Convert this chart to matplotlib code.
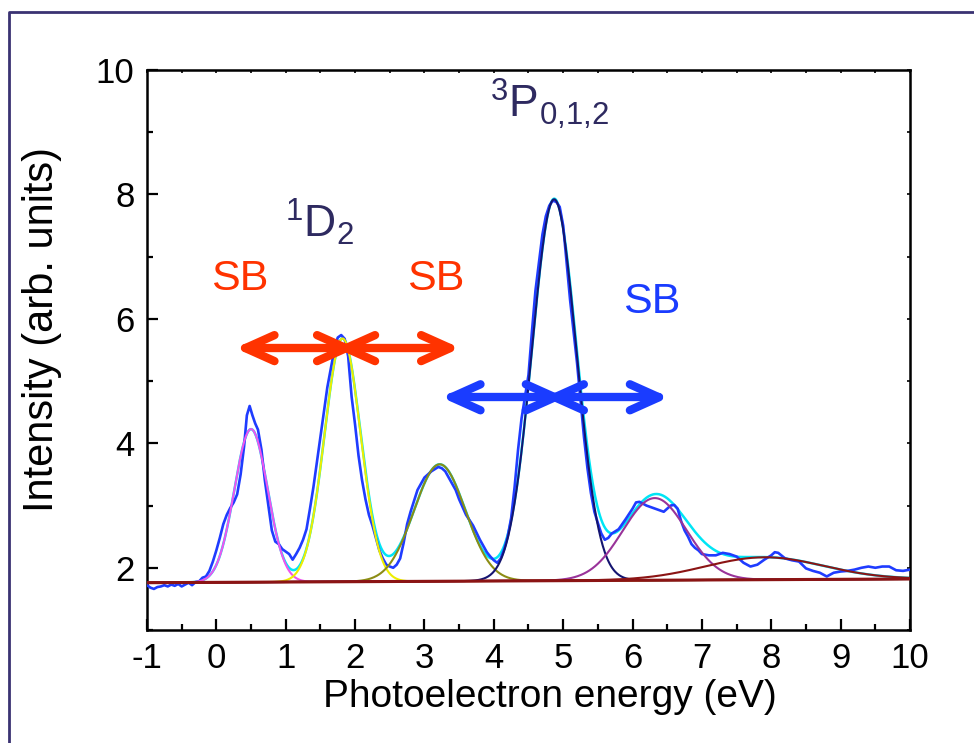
import numpy as np
import matplotlib
matplotlib.use("Agg")
import matplotlib.pyplot as plt
import matplotlib.transforms as mtransforms
from matplotlib.lines import Line2D
from matplotlib.ticker import MultipleLocator

plt.rcParams['font.family'] = ['Liberation Sans', 'DejaVu Sans']
plt.rcParams['mathtext.fontset'] = 'custom'
plt.rcParams['mathtext.rm'] = 'Liberation Sans'
plt.rcParams['mathtext.it'] = 'Liberation Sans:italic'
plt.rcParams['axes.unicode_minus'] = False

# Measured photoelectron spectrum (energy in eV, intensity in arb. units)
energy = [-1.0, -0.95, -0.9, -0.85, -0.8, -0.75, -0.7, -0.65, -0.6, -0.55, -0.5, -0.45,
          -0.4, -0.35, -0.3, -0.25, -0.2, -0.15, -0.1, -0.05, 0.0, 0.05, 0.1, 0.15, 0.2,
          0.25, 0.3, 0.35, 0.4, 0.44, 0.48, 0.52, 0.56, 0.6, 0.65, 0.7, 0.75, 0.8, 0.85,
          0.9, 0.95, 1.0, 1.05, 1.1, 1.15, 1.2, 1.25, 1.3, 1.35, 1.4, 1.45, 1.5, 1.55,
          1.6, 1.65, 1.7, 1.75, 1.8, 1.85, 1.9, 1.95, 2.0, 2.05, 2.1, 2.15, 2.2, 2.25,
          2.3, 2.35, 2.4, 2.45, 2.5, 2.55, 2.6, 2.65, 2.7, 2.75, 2.8, 2.9, 3.0, 3.1,
          3.2, 3.25, 3.3, 3.37, 3.45, 3.5, 3.6, 3.7, 3.8, 3.9, 3.95, 4.0, 4.05, 4.1,
          4.15, 4.2, 4.25, 4.3, 4.35, 4.4, 4.45, 4.5, 4.55, 4.6, 4.65, 4.7, 4.75, 4.8,
          4.85, 4.9, 4.95, 5.0, 5.05, 5.1, 5.15, 5.2, 5.25, 5.3, 5.35, 5.4, 5.45, 5.5,
          5.55, 5.6, 5.65, 5.7, 5.8, 5.9, 6.0, 6.05, 6.1, 6.15, 6.2, 6.3, 6.4, 6.45,
          6.5, 6.55, 6.6, 6.65, 6.7, 6.75, 6.8, 6.85, 6.9, 6.95, 7.0, 7.1, 7.2, 7.3,
          7.4, 7.5, 7.6, 7.7, 7.8, 7.9, 8.0, 8.05, 8.1, 8.2, 8.3, 8.4, 8.5, 8.6, 8.7,
          8.8, 8.9, 9.0, 9.1, 9.2, 9.3, 9.4, 9.5, 9.6, 9.7, 9.8, 9.9, 10.0]
intensity = [1.72, 1.68, 1.66, 1.69, 1.70, 1.72, 1.70, 1.73, 1.71, 1.74, 1.70, 1.73,
             1.76, 1.72, 1.77, 1.78, 1.84, 1.86, 1.95, 2.10, 2.28, 2.48, 2.70, 2.85, 2.96,
             3.05, 3.18, 3.50, 3.95, 4.45, 4.60, 4.45, 4.32, 4.22, 3.90, 3.40, 3.00, 2.60, 2.42,
             2.38, 2.30, 2.26, 2.22, 2.13, 2.22, 2.32, 2.45, 2.62, 2.95, 3.30, 3.70, 4.10, 4.50,
             4.90, 5.20, 5.50, 5.70, 5.74, 5.68, 5.40, 4.75, 4.30, 3.80, 3.41, 3.10, 2.85, 2.68,
             2.48, 2.28, 2.15, 2.05, 2.02, 2.00, 2.05, 2.15, 2.40, 2.70, 2.90, 3.25, 3.45, 3.55,
             3.62, 3.60, 3.55, 3.41, 3.25, 3.10, 2.85, 2.68, 2.45, 2.25, 2.18, 2.12, 2.08, 2.15,
             2.30, 2.50, 2.80, 3.30, 3.90, 4.40, 4.75, 5.10, 5.80, 6.45, 6.90, 7.35, 7.65, 7.82,
             7.90, 7.88, 7.80, 7.50, 6.90, 6.30, 5.80, 5.29, 4.70, 4.10, 3.60, 3.20, 2.90, 2.72,
             2.55, 2.45, 2.48, 2.55, 2.62, 2.78, 2.95, 3.05, 3.06, 3.03, 3.00, 2.96, 2.92, 2.90,
             2.95, 3.00, 3.01, 2.95, 2.75, 2.60, 2.50, 2.38, 2.32, 2.28, 2.22, 2.20, 2.20, 2.24,
             2.22, 2.18, 2.08, 2.02, 2.05, 2.13, 2.20, 2.25, 2.24, 2.15, 2.12, 2.10, 1.99, 1.95, 1.92,
             1.86, 1.92, 1.94, 1.95, 1.97, 2.00, 2.02, 2.00, 2.02, 2.02, 1.96, 1.95, 1.97]

# Linear background (value at -1 eV and at 10 eV)
background_ends = [1.76, 1.82]

# Gaussian fit components: centre (eV), amplitude above background, sigma (eV)
fit_centres = [0.50, 1.82, 3.22, 4.87, 6.32, 7.90]
fit_amplitudes = [2.46, 3.91, 1.88, 6.13, 1.32, 0.36]
fit_sigmas = [0.24, 0.26, 0.37, 0.32, 0.46, 0.85]
fit_colours = ['#ee55ee', '#eeee00', '#8c8c14', '#141470', '#993399', '#8b1414']

# Sideband arrows: start (eV), end (eV), height
red_arrows = [(0.42, 1.87, 5.53), (1.87, 3.37, 5.53)]
blue_arrows = [(3.39, 4.88, 4.74), (4.88, 6.38, 4.74)]

fig = plt.figure(figsize=(9.74, 7.43), dpi=100)
ax = fig.add_axes([0.1509, 0.1521, 0.7834, 0.7537])

grid = np.linspace(-1, 10, 1101)
background = np.interp(grid, [-1, 10], background_ends)
components = [a * np.exp(-(grid - c) ** 2 / (2 * s ** 2))
              for c, a, s in zip(fit_centres, fit_amplitudes, fit_sigmas)]
total = background + np.sum(components, axis=0)

ax.plot(grid, total, color='#00e5f5', lw=1.8, zorder=2)
ax.plot(energy, intensity, color='#1f3cff', lw=1.9, zorder=3)
for comp, col in zip(components, fit_colours):
    ax.plot(grid, background + comp, color=col, lw=1.5, zorder=4)
ax.plot(grid, background, color='#8b1414', lw=2.2, zorder=5)

ax.set_xlim(-1, 10)
ax.set_ylim(1, 10)
ax.xaxis.set_major_locator(MultipleLocator(1))
ax.xaxis.set_minor_locator(MultipleLocator(0.5))
ax.yaxis.set_major_locator(MultipleLocator(2))
ax.yaxis.set_minor_locator(MultipleLocator(1))
ax.tick_params(which='major', direction='in', length=8, width=1.6, labelsize=25,
               pad=9)
ax.tick_params(which='minor', direction='in', length=4.5, width=1.6)
for sp in ax.spines.values():
    sp.set_linewidth(1.8)

top = ax.secondary_xaxis('top')
top.xaxis.set_major_locator(MultipleLocator(0.5))
top.tick_params(direction='in', length=2, width=1.2, labeltop=False)
right = ax.secondary_yaxis('right')
right.yaxis.set_major_locator(MultipleLocator(1))
right.tick_params(direction='in', length=2, width=1.2, labelright=False)

ax.set_xlabel('Photoelectron energy (eV)', fontsize=28)
ax.set_ylabel('Intensity (arb. units)', fontsize=30)
ax.xaxis.set_label_coords(0.528, -0.088)
ax.yaxis.set_label_coords(-0.112, 0.536)


def double_arrow(x0, x1, y, col):
    """Shaft plus open chevron heads (head size fixed in inches)."""
    ax.plot([x0, x1], [y, y], color=col, lw=6, solid_capstyle='round', zorder=6)
    hl, hw = 0.29, 0.13
    for tip, sign in ((x0, 1), (x1, -1)):
        tr = fig.dpi_scale_trans + mtransforms.ScaledTranslation(tip, y, ax.transData)
        ax.add_line(Line2D([sign * hl, 0, sign * hl], [hw, 0, -hw], transform=tr,
                           color=col, lw=6, solid_capstyle='round',
                           solid_joinstyle='round', zorder=6))


red = '#ff3300'
blue = '#1a3cff'
for x0, x1, y in red_arrows:
    double_arrow(x0, x1, y, red)
for x0, x1, y in blue_arrows:
    double_arrow(x0, x1, y, blue)

ax.text(0.33, 6.64, 'SB', color=red, fontsize=31, ha='center', va='center')
ax.text(3.16, 6.64, 'SB', color=red, fontsize=31, ha='center', va='center')
ax.text(6.28, 6.27, 'SB', color=blue, fontsize=31, ha='center', va='center')

navy = '#2e2a60'
ax.text(0.99, 7.30, r'$\mathregular{^{1}D_{2}}$', color=navy, fontsize=32,
        ha='left', va='baseline')
ax.text(3.94, 9.24, r'$\mathregular{^{3}P_{0{,}1{,}2}}$', color=navy, fontsize=32,
        ha='left', va='baseline')

# Outer frame
frame = '#3a3272'
fig.add_artist(Line2D([9 / 974, 9 / 974, 1.0], [0.0, 1 - 12 / 743, 1 - 12 / 743],
                      transform=fig.transFigure, color=frame, lw=2))

fig.savefig('out.png', dpi=100)
